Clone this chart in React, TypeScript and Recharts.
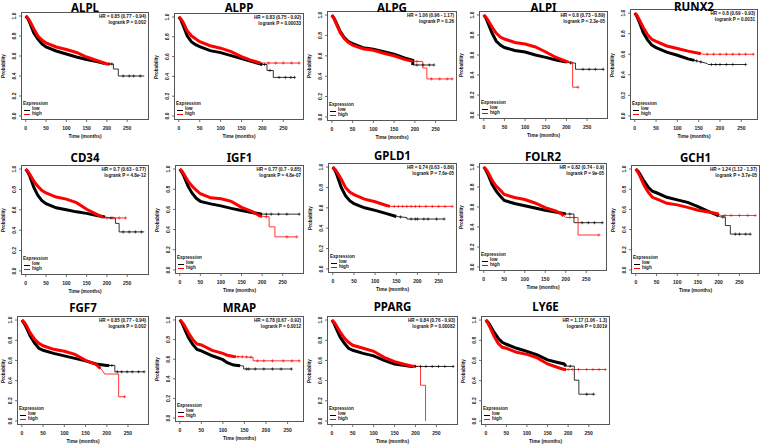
import React from 'react';
import { ComposedChart, Line, Scatter, XAxis, YAxis } from 'recharts';

type Pt = number[];

// ---- panel labels ----
const GENES = ['ALPL', 'ALPP', 'ALPG', 'ALPI', 'RUNX2', 'CD34', 'IGF1', 'GPLD1', 'FOLR2', 'GCH1', 'FGF7', 'MRAP', 'PPARG', 'LY6E'];
const HR_TEXT = [
  'HR = 0.85 (0.77 - 0.94)', 'HR = 0.83 (0.75 - 0.92)', 'HR = 1.06 (0.96 - 1.17)', 'HR = 0.8 (0.73 - 0.89)', 'HR = 0.8 (0.69 - 0.93)',
  'HR = 0.7 (0.63 - 0.77)', 'HR = 0.77 (0.7 - 0.85)', 'HR = 0.74 (0.63 - 0.86)', 'HR = 0.82 (0.74 - 0.9)', 'HR = 1.24 (1.12 - 1.37)',
  'HR = 0.85 (0.77 - 0.94)', 'HR = 0.78 (0.67 - 0.92)', 'HR = 0.84 (0.76 - 0.93)', 'HR = 1.17 (1.06 - 1.3)',
];
const P_TEXT = [
  'logrank P = 0.002', 'logrank P = 0.00033', 'logrank P = 0.26', 'logrank P = 2.3e-05', 'logrank P = 0.0031',
  'logrank P = 4.8e-12', 'logrank P = 4.8e-07', 'logrank P = 7.6e-05', 'logrank P = 9e-05', 'logrank P = 3.7e-05',
  'logrank P = 0.002', 'logrank P = 0.0012', 'logrank P = 0.00082', 'logrank P = 0.0019',
];
const X_TICKS = [0, 50, 100, 150, 200, 250];
const Y_TICKS = [0, 0.2, 0.4, 0.6, 0.8, 1.0];

// ---- survival curves: [time, probability, censor-mark flag] ----
const ALPL_low: Pt[] = [[0,1],[5,0.975],[10,0.93],[20,0.83],[30,0.77],[40,0.72],[50,0.69],[75,0.65],[100,0.62],[125,0.59],[150,0.565],[175,0.545],[200,0.52],[206,0.52,1],[212,0.52,1],[216,0.52],[216,0.47],[228,0.47],[228,0.40],[240,0.40,1],[255,0.40,1],[266,0.40,1],[282,0.40,1],[292,0.40]];
const ALPL_high: Pt[] = [[0,1],[5,0.98],[10,0.95],[20,0.87],[30,0.8],[40,0.76],[50,0.73],[75,0.69],[100,0.665],[125,0.635],[150,0.59],[175,0.555],[200,0.52],[205,0.52,1]];

const ALPP_low: Pt[] = [[0,1],[5,0.97],[10,0.92],[20,0.81],[30,0.75],[40,0.72],[50,0.7],[75,0.66],[100,0.64],[125,0.61],[150,0.58],[175,0.55],[200,0.52],[205,0.52,1],[211,0.52],[211,0.46],[218,0.46,1],[226,0.46],[226,0.39],[240,0.39,1],[255,0.39,1],[268,0.39,1],[277,0.39,1]];
const ALPP_high: Pt[] = [[0,1],[5,0.98],[10,0.95],[20,0.86],[30,0.81],[40,0.78],[50,0.75],[75,0.71],[100,0.685],[125,0.65],[150,0.6],[175,0.56],[195,0.535],[215,0.535,1],[232,0.535,1],[250,0.535,1],[270,0.535,1],[288,0.535,1]];

const ALPG_low: Pt[] = [[0,1],[5,0.97],[10,0.93],[20,0.84],[30,0.78],[40,0.74],[50,0.72],[75,0.68],[100,0.665],[125,0.64],[150,0.615],[175,0.58],[195,0.555],[195,0.51],[205,0.51,1],[220,0.51,1],[235,0.51,1],[246,0.51,1]];
const ALPG_high: Pt[] = [[0,1],[5,0.97],[10,0.92],[20,0.83],[30,0.77],[40,0.73],[50,0.705],[75,0.67],[100,0.655],[125,0.625],[150,0.6],[175,0.565],[195,0.545],[205,0.545,1],[219,0.545],[219,0.48],[229,0.48],[229,0.373],[240,0.373,1],[260,0.373,1],[278,0.373,1],[290,0.373,1]];

const ALPI_low: Pt[] = [[0,1],[5,0.97],[10,0.92],[20,0.82],[30,0.74],[40,0.7],[50,0.675],[75,0.645],[100,0.63],[125,0.6],[150,0.576],[175,0.55],[200,0.53],[210,0.52,1],[222,0.52],[222,0.457],[240,0.457,1],[255,0.457,1],[270,0.457,1],[289,0.457,1]];
const ALPI_high: Pt[] = [[0,1],[5,0.98],[10,0.95],[20,0.88],[30,0.82],[40,0.78],[50,0.76],[75,0.725],[100,0.71],[125,0.68],[150,0.63],[175,0.575],[200,0.535],[215,0.53],[215,0.278],[228,0.278,1]];

const RUNX2_low: Pt[] = [[0,1],[5,0.97],[10,0.92],[20,0.81],[30,0.74],[40,0.69],[50,0.665],[75,0.62],[100,0.59],[125,0.555],[145,0.535,1],[155,0.525,1],[170,0.51],[172,0.5],[180,0.5,1],[190,0.5,1],[200,0.5,1],[215,0.5,1],[230,0.5,1],[260,0.5,1]];
const RUNX2_high: Pt[] = [[0,1],[5,0.98],[10,0.94],[20,0.86],[30,0.79],[40,0.745],[50,0.725],[75,0.68],[100,0.655],[125,0.63],[150,0.61],[160,0.6],[170,0.6,1],[185,0.6,1],[200,0.6,1],[215,0.6,1],[230,0.6,1],[245,0.6,1],[260,0.6,1],[278,0.6,1]];

const CD34_low: Pt[] = [[0,1],[5,0.97],[10,0.93],[20,0.82],[30,0.74],[40,0.69],[50,0.66],[75,0.62],[100,0.6],[125,0.58],[150,0.565],[175,0.545],[200,0.525],[210,0.52,1],[221,0.52],[221,0.467],[230,0.467],[230,0.383],[240,0.383,1],[255,0.383,1],[270,0.383,1],[285,0.383,1],[292,0.383]];
const CD34_high: Pt[] = [[0,1],[5,0.98],[10,0.95],[20,0.88],[30,0.83],[40,0.79],[50,0.765],[75,0.725],[100,0.705],[125,0.67],[150,0.605],[175,0.555],[190,0.525],[200,0.52,1],[215,0.52,1],[230,0.52,1],[246,0.52,1]];

const IGF1_low: Pt[] = [[0,1],[5,0.97],[10,0.93],[20,0.83],[30,0.76],[40,0.71],[50,0.68],[75,0.655],[100,0.635],[125,0.61],[150,0.59],[175,0.57],[200,0.553],[210,0.553,1],[222,0.553,1],[240,0.553,1],[260,0.553,1],[290,0.553,1]];
const IGF1_high: Pt[] = [[0,1],[5,0.98],[10,0.95],[20,0.88],[30,0.83],[40,0.79],[50,0.755],[75,0.715],[100,0.705],[125,0.68],[150,0.62],[175,0.58],[195,0.535],[210,0.527,1],[217,0.527],[217,0.427],[231,0.427],[231,0.328],[260,0.328,1],[284,0.328,1]];

const GPLD1_low: Pt[] = [[0,1],[5,0.97],[10,0.92],[20,0.8],[30,0.72],[40,0.67],[50,0.64],[75,0.6],[100,0.575],[125,0.545],[150,0.515],[160,0.51,1],[175,0.505],[175,0.49],[185,0.49,1],[195,0.49,1],[200,0.49,1],[215,0.49,1],[225,0.49,1],[245,0.49,1],[263,0.49,1]];
const GPLD1_high: Pt[] = [[0,1],[5,0.98],[10,0.95],[20,0.88],[30,0.8],[40,0.755],[50,0.73],[75,0.685],[100,0.66],[125,0.625],[135,0.614],[145,0.614,1],[155,0.614,1],[165,0.614,1],[175,0.614,1],[185,0.614,1],[195,0.614,1],[205,0.614,1],[220,0.614,1],[235,0.614,1],[250,0.614,1],[265,0.614,1],[282,0.614,1]];

const FOLR2_low: Pt[] = [[0,1],[5,0.97],[10,0.93],[20,0.83],[30,0.76],[40,0.71],[50,0.665],[75,0.635],[100,0.613],[125,0.59],[150,0.567],[175,0.55],[200,0.53],[210,0.53,1],[220,0.53],[220,0.443],[240,0.443,1],[255,0.443,1],[270,0.443,1],[289,0.443,1]];
const FOLR2_high: Pt[] = [[0,1],[5,0.98],[10,0.95],[20,0.87],[30,0.81],[40,0.77],[50,0.725],[75,0.695],[100,0.675],[125,0.64],[150,0.593],[175,0.56],[190,0.53],[200,0.495],[210,0.495,1],[220,0.495,1],[230,0.495],[230,0.32],[281,0.32,1]];

const GCH1_low: Pt[] = [[0,1],[5,0.98],[10,0.95],[20,0.88],[30,0.82],[40,0.78],[50,0.765],[75,0.72],[100,0.694],[125,0.67],[150,0.628],[175,0.58],[195,0.545],[205,0.525],[210,0.525,1],[216,0.525],[216,0.44],[228,0.44],[228,0.355],[240,0.355,1],[250,0.355,1],[265,0.355,1],[276,0.355,1]];
const GCH1_high: Pt[] = [[0,1],[5,0.97],[10,0.93],[20,0.84],[30,0.77],[40,0.72],[50,0.705],[75,0.66],[100,0.645],[125,0.62],[150,0.592],[175,0.575],[200,0.555],[205,0.54],[215,0.54,1],[230,0.54,1],[250,0.54,1],[270,0.54,1],[288,0.54,1]];

const FGF7_low: Pt[] = [[0,1],[5,0.97],[10,0.93],[20,0.84],[30,0.77],[40,0.72],[50,0.7],[75,0.67],[100,0.645],[125,0.62],[150,0.595],[175,0.565],[200,0.55],[205,0.55,1],[212,0.55,1],[219,0.55],[219,0.487],[225,0.487,1],[235,0.487,1],[248,0.487,1],[260,0.487,1],[275,0.487,1],[288,0.487,1]];
const FGF7_high: Pt[] = [[0,1],[5,0.98],[10,0.95],[20,0.87],[30,0.81],[40,0.77],[50,0.745],[75,0.71],[100,0.69],[125,0.66],[150,0.6],[175,0.56],[180,0.54],[190,0.5],[195,0.465],[228,0.465],[228,0.24],[242,0.24,1]];

const MRAP_low: Pt[] = [[0,1],[5,0.97],[10,0.92],[20,0.82],[30,0.75],[40,0.7],[50,0.685],[75,0.635],[100,0.595],[110,0.565],[125,0.54],[148,0.53],[148,0.5],[155,0.5,1],[160,0.5,1],[175,0.5,1],[195,0.5,1],[215,0.5,1],[235,0.5,1],[259,0.5,1]];
const MRAP_high: Pt[] = [[0,1],[5,0.98],[10,0.95],[20,0.87],[30,0.8],[40,0.755],[50,0.745],[75,0.69],[100,0.66],[110,0.64],[125,0.627],[135,0.625,1],[145,0.624,1],[155,0.622,1],[165,0.62,1],[170,0.62],[170,0.583],[180,0.583,1],[195,0.583,1],[215,0.583,1],[240,0.583,1],[260,0.583,1],[277,0.583,1]];

const PPARG_low: Pt[] = [[0,1],[5,0.97],[10,0.92],[20,0.83],[30,0.77],[40,0.72],[50,0.7],[75,0.67],[100,0.645],[125,0.6],[150,0.565],[175,0.55],[190,0.54],[200,0.54,1],[212,0.54,1],[225,0.54,1],[240,0.54,1],[255,0.54,1],[270,0.54,1],[290,0.54,1]];
const PPARG_high: Pt[] = [[0,1],[5,0.98],[10,0.95],[20,0.88],[30,0.82],[40,0.78],[50,0.75],[75,0.72],[100,0.69],[125,0.63],[150,0.588],[175,0.56],[190,0.545],[212,0.54],[212,0.354],[224,0.354],[224,0]];

const LY6E_low: Pt[] = [[0,1],[5,0.98],[10,0.95],[20,0.88],[30,0.82],[40,0.78],[50,0.76],[75,0.72],[100,0.69],[125,0.655],[150,0.605],[175,0.58],[190,0.565],[195,0.543],[205,0.543,1],[215,0.543],[215,0.404],[226,0.404],[226,0.265],[245,0.265,1],[262,0.265,1]];
const LY6E_high: Pt[] = [[0,1],[5,0.97],[10,0.93],[20,0.84],[30,0.77],[40,0.73],[50,0.72],[75,0.68],[100,0.66],[125,0.625],[150,0.565],[175,0.53],[190,0.51],[200,0.51,1],[210,0.51,1],[225,0.51,1],[245,0.51,1],[260,0.51,1],[275,0.51,1],[290,0.51,1]];

const LOW_SERIES = [ALPL_low, ALPP_low, ALPG_low, ALPI_low, RUNX2_low, CD34_low, IGF1_low, GPLD1_low, FOLR2_low, GCH1_low, FGF7_low, MRAP_low, PPARG_low, LY6E_low];
const HIGH_SERIES = [ALPL_high, ALPP_high, ALPG_high, ALPI_high, RUNX2_high, CD34_high, IGF1_high, GPLD1_high, FOLR2_high, GCH1_high, FGF7_high, MRAP_high, PPARG_high, LY6E_high];
// time up to which censoring is dense (low, high)
const DENSE_END = [[195, 205], [200, 195], [195, 195], [200, 205], [140, 155], [195, 190], [200, 200], [150, 135], [200, 195], [200, 200], [205, 185], [140, 130], [195, 200], [195, 195]];

// ---- layout (plot box: left, top, width, height; title centre y) ----
const BOXES = [
  [21, 12, 128, 108], [174, 13, 130, 107], [327, 11, 130, 110], [479, 11, 129, 108], [630, 9, 128, 111],
  [21, 165, 128, 110], [175, 165, 129, 109], [328, 163, 129, 110], [479, 163, 128, 108], [631, 165, 129, 109],
  [17, 316, 132, 109], [175, 316, 129, 106], [327, 316, 131, 109], [481, 316, 129, 109],
];
const TITLE_Y = [8, 8, 8, 7.5, 6.5, 158, 158, 156, 157, 158, 308, 308, 307, 307];

const YW = 14;
const XH = 12;
const FONT = "'Liberation Sans', Arial, sans-serif";
const LOW_COLOR = '#000000';
const HIGH_COLOR = '#ff0000';

const rows = (pts: Pt[]) => pts.map((p) => ({ t: p[0], s: p[1] }));
const censRows = (pts: Pt[]) => pts.filter((p) => p[2]).map((p) => ({ t: p[0], s: p[1] }));
const denseRows = (pts: Pt[], end: number) => {
  const out: { t: number; s: number }[] = [];
  for (let i = 0; i < pts.length; i++) {
    const p = pts[i];
    if (p[0] <= end) out.push({ t: p[0], s: p[1] });
    else {
      const q = pts[i - 1];
      const f = (end - q[0]) / (p[0] - q[0]);
      out.push({ t: end, s: q[1] + f * (p[1] - q[1]) });
      break;
    }
  }
  return out;
};

const plusShape = (color: string) => (props: any) => {
  const { cx, cy } = props;
  if (cx == null || cy == null) return <g />;
  return <path d={`M${cx - 1.6},${cy}h3.2M${cx},${cy - 1.6}v3.2`} stroke={color} strokeWidth={0.6} fill="none" />;
};

const YTick = (props: any) => {
  const { y, payload } = props;
  const x = YW - 5;
  return (
    <text x={x} y={y} transform={`rotate(-90 ${x} ${y})`} textAnchor="middle" fontSize={5} fontWeight="bold" fill="#222" fontFamily={FONT}>
      {Number(payload.value).toFixed(1)}
    </text>
  );
};

const makeXTick = (h: number) => (props: any) => {
  const { x, payload } = props;
  return (
    <text x={x} y={h + 9.5} textAnchor="middle" fontSize={5} fontWeight="bold" fill="#222" fontFamily={FONT}>
      {payload.value}
    </text>
  );
};

const txt = (extra: React.CSSProperties): React.CSSProperties => ({
  position: 'absolute', whiteSpace: 'nowrap', fontFamily: FONT, fontWeight: 700, color: '#111', lineHeight: 1, ...extra,
});

function Panel({ i }: { i: number }) {
  const [l, t, w, h] = BOXES[i];
  const low = LOW_SERIES[i];
  const high = HIGH_SERIES[i];
  const maxT = Math.max(...low.map((p) => p[0]), ...high.map((p) => p[0]));
  const dom: [number, number] = [-0.04 * maxT, 1.04 * maxT];
  return (
    <>
      <div style={{ position: 'absolute', left: l - YW, top: t }}>
        <ComposedChart width={w + YW + 2} height={h + XH} margin={{ top: 0, right: 2, bottom: 0, left: 0 }}>
          <XAxis type="number" dataKey="t" domain={dom} ticks={X_TICKS} allowDataOverflow axisLine={false}
            tickLine={{ stroke: '#333', strokeWidth: 0.7 }} tickSize={2} height={XH} tick={makeXTick(h)} interval={0} />
          <YAxis type="number" dataKey="s" domain={[-0.04, 1.04]} ticks={Y_TICKS} allowDataOverflow axisLine={false}
            tickLine={{ stroke: '#333', strokeWidth: 0.7 }} tickSize={2} width={YW} tick={YTick} interval={0} />
          <Line data={rows(low)} dataKey="s" type="linear" stroke={LOW_COLOR} strokeWidth={0.8} dot={false} isAnimationActive={false} />
          <Line data={denseRows(low, DENSE_END[i][0])} dataKey="s" type="linear" stroke={LOW_COLOR} strokeWidth={3} dot={false} isAnimationActive={false} />
          <Scatter data={censRows(low)} dataKey="s" shape={plusShape(LOW_COLOR)} isAnimationActive={false} />
          <Line data={rows(high)} dataKey="s" type="linear" stroke={HIGH_COLOR} strokeWidth={0.8} dot={false} isAnimationActive={false} />
          <Line data={denseRows(high, DENSE_END[i][1])} dataKey="s" type="linear" stroke={HIGH_COLOR} strokeWidth={3} dot={false} isAnimationActive={false} />
          <Scatter data={censRows(high)} dataKey="s" shape={plusShape(HIGH_COLOR)} isAnimationActive={false} />
        </ComposedChart>
      </div>
      <div style={{ position: 'absolute', left: l, top: t, width: w, height: h, border: '1px solid #555', boxSizing: 'border-box', pointerEvents: 'none' }} />
      <div style={txt({ left: l + w / 2, top: TITLE_Y[i], transform: 'translate(-50%,-50%)', fontFamily: "'Noto Sans', sans-serif", fontSize: 11.5, color: '#000' })}>{GENES[i]}</div>
      <div style={txt({ right: 761 - (l + w - 3), top: t + 2.5, fontSize: 4.6, textAlign: 'right' })}>{HR_TEXT[i]}</div>
      <div style={txt({ right: 761 - (l + w - 3), top: t + 8.5, fontSize: 4.6, textAlign: 'right' })}>{P_TEXT[i]}</div>
      <div style={txt({ left: l + 2, top: t + h - 18, fontSize: 4.6 })}>Expression</div>
      <div style={{ position: 'absolute', left: l + 3, top: t + h - 10.5, width: 6, height: 0, borderTop: `0.8px solid ${LOW_COLOR}` }} />
      <div style={txt({ left: l + 11, top: t + h - 12.8, fontSize: 4.6 })}>low</div>
      <div style={{ position: 'absolute', left: l + 3, top: t + h - 6, width: 6, height: 0, borderTop: `0.8px solid ${HIGH_COLOR}` }} />
      <div style={txt({ left: l + 11, top: t + h - 8.3, fontSize: 4.6 })}>high</div>
      <div style={txt({ left: Math.max(4, l - 17), top: t + h / 2, transform: 'translate(-50%,-50%) rotate(-90deg)', fontSize: 4.6 })}>Probability</div>
      <div style={txt({ left: l + w / 2, top: t + h + 17, transform: 'translate(-50%,-50%)', fontSize: 4.8 })}>Time (months)</div>
    </>
  );
}

export default function App() {
  return (
    <div style={{ position: 'absolute', left: 0, top: 0, width: 761, height: 445, background: '#fff', overflow: 'hidden' }}>
      {GENES.map((g, i) => (
        <Panel key={g} i={i} />
      ))}
    </div>
  );
}
